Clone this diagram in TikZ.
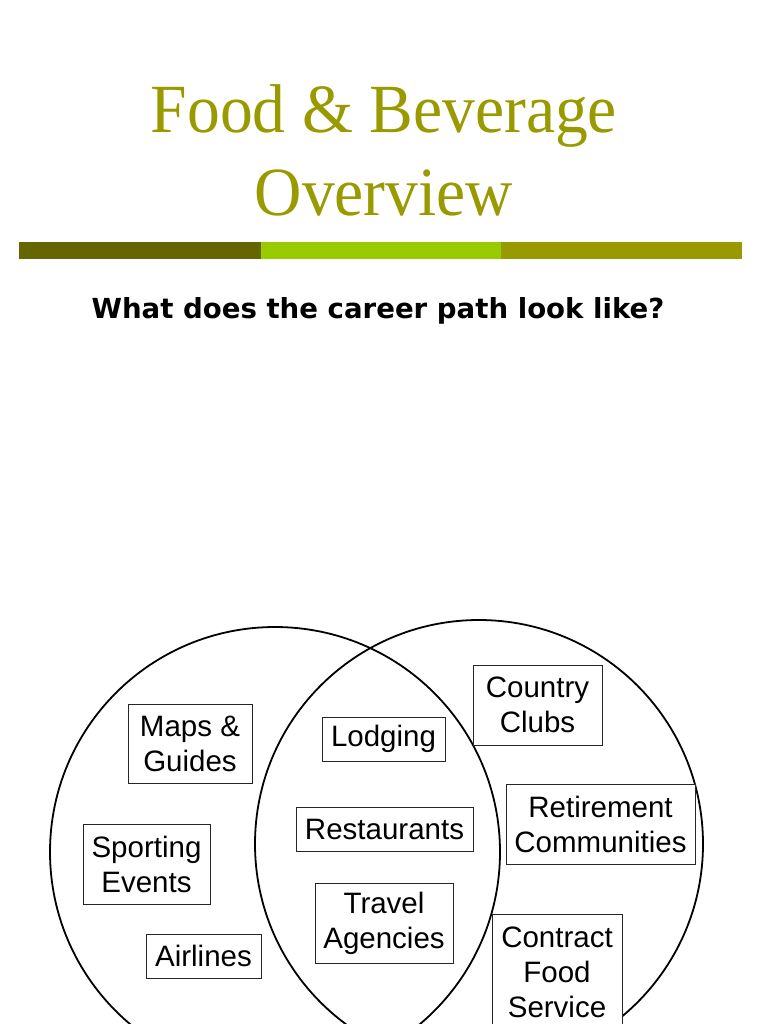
\documentclass[tikz,border=0pt]{standalone}
\usepackage{fontspec}
\setmainfont{Liberation Serif}
\setsansfont{Liberation Sans}
\newfontfamily\askfont{DejaVu Sans}
\definecolor{titleolive}{HTML}{999900}
\definecolor{bardark}{HTML}{666600}
\definecolor{barlime}{HTML}{99CC00}
\definecolor{barolive}{HTML}{999900}
\begin{document}
\begin{tikzpicture}[x=1pt,y=-1pt,
  venn/.style={circle, draw, line width=1.8pt, inner sep=0pt},
  item/.style={draw=black!85, fill=white, line width=0.9pt, align=center, inner sep=0pt,
    font=\sffamily\fontsize{29.5}{35}\selectfont},
  heading/.style={anchor=base, text=titleolive, font=\fontsize{69}{80}\selectfont}]
\useasboundingbox (0,0) rectangle (768,1024);
\clip (0,0) rectangle (768,1024);
\node[heading] (title1) at (384,133){\scalebox{0.95}[1]{Food \& Beverage}};
\node[heading] (title2) at (384,215){\scalebox{0.95}[1]{Overview}};
\fill[bardark] (19,242) rectangle (261,259);
\fill[barlime] (261,242) rectangle (501,259);
\fill[barolive] (501,242) rectangle (742,259);
\node[anchor=base, font=\askfont\bfseries\fontsize{27.6}{32}\selectfont] (question) at (378,318){What does the career path look like?};
\node[venn, minimum size=450pt] (vennleft) at (275,852){};
\node[venn, minimum size=448pt] (vennright) at (479,844){};
\node[item, minimum width=124pt, minimum height=79pt] (maps) at (190,743.5){Maps \&\\Guides};
\node[item, minimum width=127pt, minimum height=80pt] (sporting) at (146.5,864){Sporting\\Events};
\node[item, minimum width=115pt, minimum height=44pt] (airlines) at (203.5,956){Airlines};
\node[item, minimum width=123pt, minimum height=44pt] (lodging) at (383.5,739){Lodging};
\node[item, minimum width=177pt, minimum height=44pt] (restaurants) at (384.5,829){Restaurants};
\node[item, minimum width=138pt, minimum height=80pt] (travel) at (384,923){Travel\\Agencies};
\node[item, minimum width=129pt, minimum height=80pt] (country) at (537.5,705){Country\\Clubs};
\node[item, minimum width=189pt, minimum height=80pt] (retirement) at (600.5,824){Retirement\\Communities};
\node[item, minimum width=130pt, minimum height=116pt] (contract) at (557,972){Contract\\Food\\Service};
\end{tikzpicture}
\end{document}
